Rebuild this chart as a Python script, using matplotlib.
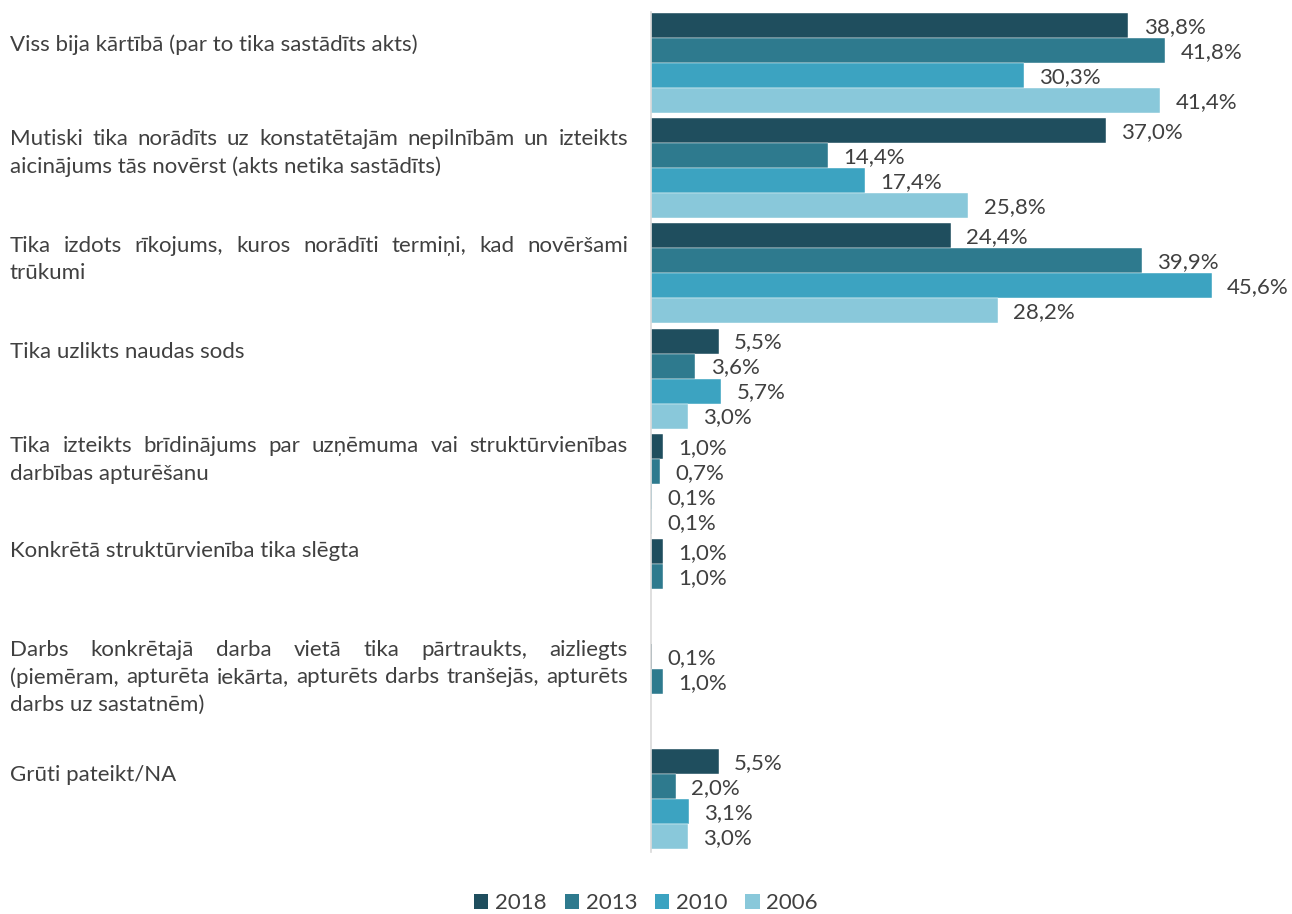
import numpy as np
import matplotlib
matplotlib.use("Agg")
import matplotlib.pyplot as plt
from matplotlib.patches import Patch

plt.rcParams["font.family"] = ["Lato", "DejaVu Sans"]

CATEGORIES = [
    ["Viss bija kārtībā (par to tika sastādīts akts)"],
    ["Mutiski tika norādīts uz konstatētajām nepilnībām un izteikts",
     "aicinājums tās novērst (akts netika sastādīts)"],
    ["Tika izdots rīkojums, kuros norādīti termiņi, kad novēršami",
     "trūkumi"],
    ["Tika uzlikts naudas sods"],
    ["Tika izteikts brīdinājums par uzņēmuma vai struktūrvienības",
     "darbības apturēšanu"],
    ["Konkrētā struktūrvienība tika slēgta"],
    ["Darbs konkrētajā darba vietā tika pārtraukts, aizliegts",
     "(piemēram, apturēta iekārta, apturēts darbs tranšejās, apturēts",
     "darbs uz sastatnēm)"],
    ["Grūti pateikt/NA"],
]
YEARS = ["2018", "2013", "2010", "2006"]
V2018 = [38.8, 37.0, 24.4, 5.5, 1.0, 1.0, 0.1, 5.5]
V2013 = [41.8, 14.4, 39.9, 3.6, 0.7, 1.0, 1.0, 2.0]
V2010 = [30.3, 17.4, 45.6, 5.7, 0.1, None, None, 3.1]
V2006 = [41.4, 25.8, 28.2, 3.0, 0.1, None, None, 3.0]

COLORS = ["#1F4E5E", "#2E7A8E", "#3CA3C1", "#89C8DA"]
TXT = "#404040"
FS = 16

# vertical nudge (px, negative = up) of each category label block
LABEL_SHIFT = [-18, -15, -14, -27, -24, -38, -17, -24]
LINE_PX = 27.5
TEXT_LEFT, TEXT_RIGHT = 10, 628

W, H = 1292, 914
fig = plt.figure(figsize=(W / 100, H / 100), dpi=100)
ax = fig.add_axes([651 / W, 62 / H, 615 / W, 840 / H])

bw = 0.2376
y0 = np.arange(len(CATEGORIES))
for j, (yr, vals) in enumerate(zip(YEARS, [V2018, V2013, V2010, V2006])):
    for i, v in enumerate(vals):
        if v is None:
            continue
        y = y0[i] + (j - 1.5) * bw
        # tiny bars would vanish under a white edge
        ec = "white" if v >= 0.5 else "none"
        ax.barh(y, v, height=bw, color=COLORS[j], edgecolor=ec, linewidth=0.3)
        ax.annotate(f"{v:.1f}%".replace(".", ","), (v, y), xytext=(11, -1),
                    textcoords="offset points", ha="left", va="center",
                    fontsize=FS, color=TXT)

ax.set_xlim(0, 50)
ax.set_ylim(7.5, -0.485)
for s in ("top", "right", "bottom"):
    ax.spines[s].set_visible(False)
ax.spines["left"].set_color("#D9D9D9")
ax.spines["left"].set_linewidth(1.2)
ax.set_xticks([])
ax.set_yticks([])

# category labels, justified like the source
renderer = fig.canvas.get_renderer()
for i, lines in enumerate(CATEGORIES):
    cy = ax.transData.transform((0, y0[i]))[1] - LABEL_SHIFT[i]
    n = len(lines)
    for k, line in enumerate(lines):
        ly = (cy + ((n - 1) / 2 - k) * LINE_PX) / H
        if k < n - 1:
            words = line.split()
            objs = [fig.text(0, ly, w, fontsize=FS, color=TXT, va="center")
                    for w in words]
            widths = [o.get_window_extent(renderer).width for o in objs]
            gap = (TEXT_RIGHT - TEXT_LEFT - sum(widths)) / (len(words) - 1)
            x = TEXT_LEFT
            for o, wd in zip(objs, widths):
                o.set_x(x / W)
                x += wd + gap
        else:
            fig.text(TEXT_LEFT / W, ly, line, fontsize=FS, color=TXT, va="center")

handles = [Patch(facecolor=c, label=y) for c, y in zip(COLORS, YEARS)]
fig.legend(handles=handles, loc="center", bbox_to_anchor=(0.5, 1 - 903 / H), ncol=4,
           frameon=False, fontsize=FS, handlelength=0.65, handleheight=0.65,
           handletextpad=0.3, columnspacing=0.8, labelcolor=TXT)

fig.savefig("out.png", dpi=100)
